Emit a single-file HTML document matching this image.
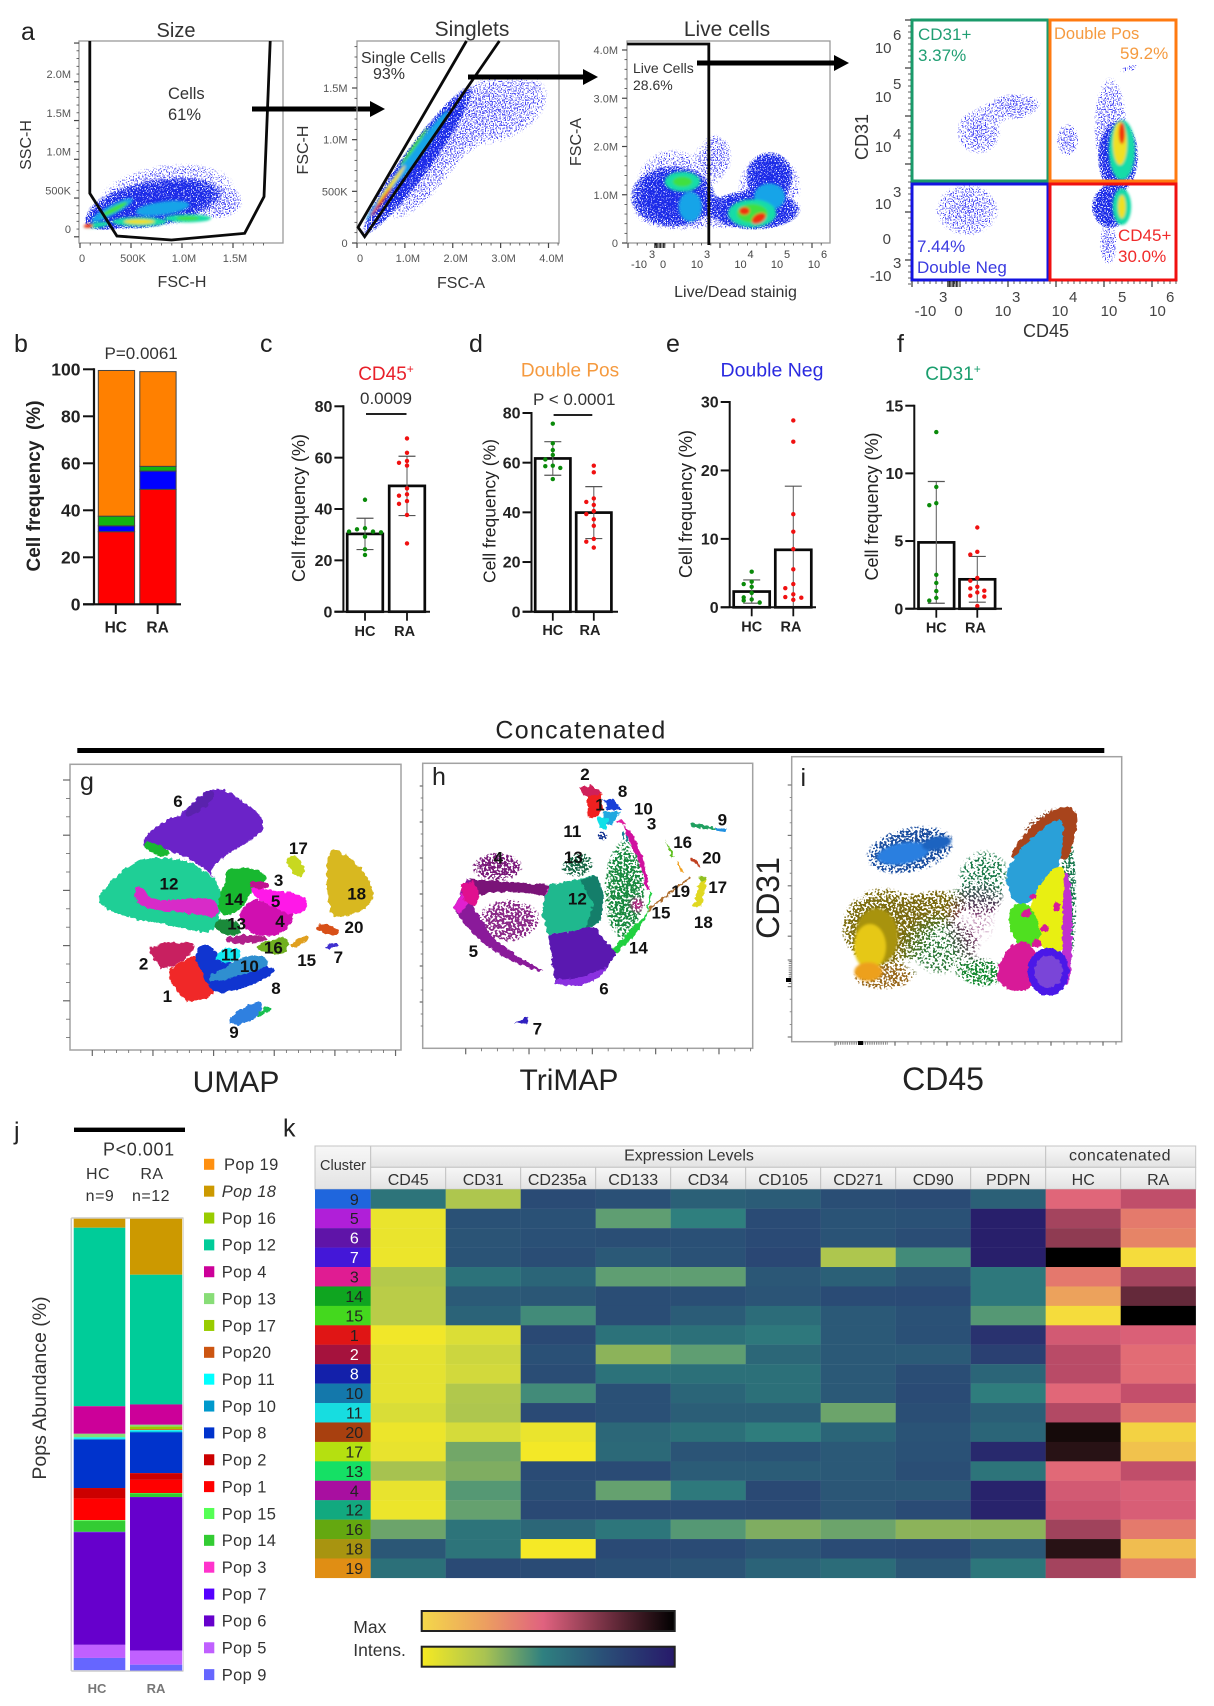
<!DOCTYPE html>
<html lang="en">
<head>
<meta charset="utf-8">
<title>Flow cytometry composite figure</title>
<style>
html,body{margin:0;padding:0;background:#fff}
svg{display:block;font-family:"Liberation Sans",Arial,sans-serif}
</style>
</head>
<body>
<svg id="fig" xmlns="http://www.w3.org/2000/svg" width="1214" height="1706" viewBox="0 0 1214 1706">
<defs id="defs">
<filter id="speckSparse" x="-10%" y="-10%" width="120%" height="120%" color-interpolation-filters="sRGB">
<feGaussianBlur in="SourceGraphic" stdDeviation="1" result="b"/>
<feTurbulence type="fractalNoise" baseFrequency="0.75" numOctaves="1" seed="4" result="t"/>
<feColorMatrix in="t" type="matrix" values="0 0 0 0 0 0 0 0 0 0 0 0 0 0 0 4 0 0 0 -1.5" result="m"/>
<feComposite in="b" in2="m" operator="in" result="c"/>
<feComponentTransfer in="c"><feFuncA type="linear" slope="8" intercept="-4.4"/></feComponentTransfer>
</filter>
<filter id="speckDense" x="-10%" y="-10%" width="120%" height="120%" color-interpolation-filters="sRGB">
<feGaussianBlur in="SourceGraphic" stdDeviation="1" result="b"/>
<feTurbulence type="fractalNoise" baseFrequency="0.8" numOctaves="1" seed="9" result="t"/>
<feColorMatrix in="t" type="matrix" values="0 0 0 0 0 0 0 0 0 0 0 0 0 0 0 4 0 0 0 -1.2" result="m"/>
<feComposite in="b" in2="m" operator="in" result="c"/>
<feComponentTransfer in="c"><feFuncA type="linear" slope="8" intercept="-2"/></feComponentTransfer>
</filter>
<filter id="speckRegion" x="-10%" y="-10%" width="120%" height="120%" color-interpolation-filters="sRGB">
<feGaussianBlur in="SourceGraphic" stdDeviation="1.5" result="b"/>
<feTurbulence type="fractalNoise" baseFrequency="0.45" numOctaves="1" seed="6" result="t"/>
<feColorMatrix in="t" type="matrix" values="0 0 0 0 0 0 0 0 0 0 0 0 0 0 0 4 0 0 0 -1.4" result="m"/>
<feComposite in="b" in2="m" operator="in" result="c"/>
<feComponentTransfer in="c"><feFuncA type="linear" slope="9" intercept="-3"/></feComponentTransfer>
</filter>
<filter id="soft" x="-40%" y="-40%" width="180%" height="180%"><feGaussianBlur stdDeviation="1.3"/></filter>
<filter id="rough" x="-5%" y="-5%" width="110%" height="110%" color-interpolation-filters="sRGB">
<feTurbulence type="fractalNoise" baseFrequency="0.22" numOctaves="2" seed="2" result="t"/>
<feDisplacementMap in="SourceGraphic" in2="t" scale="5" xChannelSelector="R" yChannelSelector="G"/>
</filter>
<clipPath id="clipA1"><rect x="79" y="41" width="204" height="202"/></clipPath>
<clipPath id="clipA2"><rect x="357" y="41" width="202" height="202"/></clipPath>
<clipPath id="clipA3"><rect x="627" y="41" width="203" height="202"/></clipPath>
<clipPath id="clipA4"><rect x="911" y="18" width="266" height="263"/></clipPath>
<linearGradient id="hdr" x1="0" y1="0" x2="0" y2="1"><stop offset="0" stop-color="#f7f7f7"/><stop offset="1" stop-color="#e3e3e3"/></linearGradient>
<linearGradient id="rampWarm" x1="0" y1="0" x2="1" y2="0"><stop offset="0" stop-color="#f4d84a"/><stop offset=".25" stop-color="#ec9f60"/><stop offset=".48" stop-color="#e0627f"/><stop offset=".75" stop-color="#6a2c3d"/><stop offset="1" stop-color="#000"/></linearGradient>
<linearGradient id="rampCool" x1="0" y1="0" x2="1" y2="0"><stop offset="0" stop-color="#f6ea22"/><stop offset=".25" stop-color="#a9c352"/><stop offset=".48" stop-color="#2f8080"/><stop offset=".72" stop-color="#2a4f77"/><stop offset="1" stop-color="#27196a"/></linearGradient>
</defs>

<g id="panelA">
<text x="21" y="40" font-size="25" fill="#222">a</text>
<text x="176" y="37" font-size="20" text-anchor="middle" fill="#333">Size</text>
<text x="472" y="36" font-size="21" text-anchor="middle" fill="#333">Singlets</text>
<text x="727" y="36" font-size="21" text-anchor="middle" fill="#333">Live cells</text>
<text x="182" y="287" font-size="16" text-anchor="middle" fill="#333">FSC-H</text>
<text transform="translate(31,145) rotate(-90)" font-size="16" text-anchor="middle" fill="#333">SSC-H</text>
<text x="461" y="288" font-size="16" text-anchor="middle" fill="#333">FSC-A</text>
<text transform="translate(308,150) rotate(-90)" font-size="16" text-anchor="middle" fill="#333">FSC-H</text>
<text transform="translate(581,142) rotate(-90)" font-size="16" text-anchor="middle" fill="#333">FSC-A</text>
<text x="735.5" y="297" font-size="16" text-anchor="middle" fill="#333">Live/Dead stainig</text>
<text transform="translate(868,137) rotate(-90)" font-size="18" text-anchor="middle" fill="#333">CD31</text>
<text x="1046" y="337" font-size="18" text-anchor="middle" fill="#333">CD45</text>
</g>
<g id="a1Plot"></g>
<g id="a2Plot"></g>
<g id="a3Plot"></g>
<g id="a4Plot"></g>
<g id="gateLabels">
<text x="168" y="99" font-size="16.5" fill="#333">Cells</text>
<text x="168" y="120" font-size="16.5" fill="#333">61%</text>
<text x="361" y="63" font-size="16" fill="#333">Single Cells</text>
<text x="373" y="79" font-size="16" fill="#333">93%</text>
<text x="633" y="73" font-size="14" fill="#333">Live Cells</text>
<text x="633" y="90" font-size="14" fill="#333">28.6%</text>
<text x="918" y="40" font-size="17" fill="#1f9e72">CD31+</text>
<text x="918" y="61" font-size="17" fill="#1f9e72">3.37%</text>
<text x="1054" y="39" font-size="16.5" fill="#f59a3f">Double Pos</text>
<text x="1120" y="59" font-size="17" fill="#f59a3f">59.2%</text>
<text x="917" y="252" font-size="17" fill="#3a3ae0">7.44%</text>
<text x="917" y="273" font-size="17" fill="#3a3ae0">Double Neg</text>
<text x="1118" y="241" font-size="17" fill="#f02a2a">CD45+</text>
<text x="1118" y="262" font-size="17" fill="#f02a2a">30.0%</text>
</g>

<g id="panelB">
<text x="14" y="352" font-size="25" fill="#222">b</text>
<text x="104.5" y="359" font-size="17" fill="#333">P=0.0061</text>
<text transform="translate(40,486) rotate(-90)" font-size="19" font-weight="bold" text-anchor="middle" fill="#222">Cell frequency&#160; (%)</text>
</g>
<g id="panelC">
<text x="260" y="352" font-size="25" fill="#222">c</text>
<text x="386" y="380" font-size="19" text-anchor="middle" fill="#e8202a">CD45<tspan dy="-7" font-size="12">+</tspan></text>
<text x="386" y="404" font-size="17" text-anchor="middle" fill="#333">0.0009</text>
<line x1="366" x2="406.5" y1="414" y2="414" stroke="#222" stroke-width="2"/>
<text transform="translate(305,508) rotate(-90)" font-size="18" text-anchor="middle" fill="#222">Cell frequency (%)</text>
</g>
<g id="panelD">
<text x="469" y="352" font-size="25" fill="#222">d</text>
<text x="570" y="376.5" font-size="19" text-anchor="middle" fill="#f59a3f">Double Pos</text>
<text x="533" y="405" font-size="17" fill="#333">P &lt; 0.0001</text>
<line x1="553.6" x2="592.3" y1="415" y2="415" stroke="#222" stroke-width="2"/>
<text transform="translate(495.5,511) rotate(-90)" font-size="17.5" text-anchor="middle" fill="#222">Cell frequency (%)</text>
</g>
<g id="panelE">
<text x="666" y="352" font-size="25" fill="#222">e</text>
<text x="772" y="376.5" font-size="19.5" text-anchor="middle" fill="#2a2ae0">Double Neg</text>
<text transform="translate(692,504) rotate(-90)" font-size="18" text-anchor="middle" fill="#222">Cell frequency (%)</text>
</g>
<g id="panelF">
<text x="897" y="352" font-size="25" fill="#222">f</text>
<text x="953" y="380" font-size="19" text-anchor="middle" fill="#1a9e6e">CD31<tspan dy="-7" font-size="12">+</tspan></text>
<text transform="translate(878,506.5) rotate(-90)" font-size="18" text-anchor="middle" fill="#222">Cell frequency (%)</text>
</g>

<text x="581" y="738.5" font-size="25" letter-spacing="1.3" text-anchor="middle" fill="#222">Concatenated</text>
<rect x="77.3" y="748" width="1027" height="5" fill="#000"/>

<g id="gPlot"></g>
<g id="hPlot"></g>
<g id="iPlot"></g>
<g id="embeddingTitles">
<text x="80" y="790" font-size="25" fill="#222">g</text>
<text x="432" y="785" font-size="25" fill="#222">h</text>
<text x="800.5" y="786" font-size="25" fill="#222">i</text>
<text x="236" y="1092" font-size="30" text-anchor="middle" fill="#222">UMAP</text>
<text x="569" y="1090" font-size="30" text-anchor="middle" fill="#222">TriMAP</text>
<text x="943" y="1090" font-size="32" text-anchor="middle" fill="#222">CD45</text>
<text transform="translate(779,898) rotate(-90)" font-size="32" text-anchor="middle" fill="#222">CD31</text>
</g>

<g id="panelJ">
<text x="14" y="1139.6" font-size="25" fill="#222">j</text>
<rect x="74" y="1127.6" width="111" height="4.4" fill="#000"/>
<text x="103" y="1155.6" font-size="18" letter-spacing=".6" fill="#333">P&lt;0.001</text>
<text x="98" y="1179" font-size="16" text-anchor="middle" letter-spacing=".5" fill="#333">HC</text>
<text x="152" y="1179" font-size="16" text-anchor="middle" letter-spacing=".5" fill="#333">RA</text>
<text x="100" y="1201" font-size="16" text-anchor="middle" letter-spacing=".5" fill="#333">n=9</text>
<text x="151" y="1201" font-size="16" text-anchor="middle" letter-spacing=".5" fill="#333">n=12</text>
<text transform="translate(46,1388) rotate(-90)" font-size="19.5" text-anchor="middle" fill="#333">Pops Abundance (%)</text>
<text x="97" y="1693" font-size="13" font-weight="bold" text-anchor="middle" fill="#777">HC</text>
<text x="156" y="1693" font-size="13" font-weight="bold" text-anchor="middle" fill="#777">RA</text>
</g>

<g id="panelK">
<text x="283" y="1136.6" font-size="25" fill="#222">k</text>
<text x="353.3" y="1633" font-size="17.5" fill="#333">Max</text>
<text x="353.3" y="1656" font-size="17.5" fill="#333">Intens.</text>
<rect x="421.7" y="1611" width="253" height="20" fill="url(#rampWarm)" stroke="#222" stroke-width="2"/>
<rect x="421.7" y="1646.7" width="253" height="20" fill="url(#rampCool)" stroke="#222" stroke-width="2"/>
</g>

<script>
/* ---------- panel b: stacked compartments (percent) ---------- */
const stackGroups = ['HC', 'RA'];
const stackCompartments = ['cd45', 'double-neg', 'cd31', 'double-pos'];
const stackHC = [30.9, 2.5, 4.1, 62.0];
const stackRA = [48.9, 7.8, 2.0, 40.3];
const stackTicks = [0, 20, 40, 60, 80, 100];

/* ---------- panels c-f: mean, SD, individual donors ---------- */
const cd45Means = [30.3, 49.0];
const cd45Sds = [6.1, 11.55];
const cd45HC = [43.6, 32.5, 32.1, 31.2, 31.2, 30.9, 29.2, 24.3, 22.1];
const cd45RA = [67.5, 61.9, 58.7, 58.0, 56.9, 48.0, 45.7, 45.2, 43.1, 42.0, 37.7, 26.6];
const cd45Ticks = [0, 20, 40, 60, 80];

const dposMeans = [61.7, 39.9];
const dposSds = [6.75, 10.45];
const dposHC = [75.7, 67.8, 65.1, 63.1, 61.3, 58.8, 58.6, 57.9, 53.4];
const dposRA = [58.8, 56.1, 45.6, 44.2, 43.0, 40.5, 39.3, 37.2, 34.6, 29.3, 28.2, 25.8];
const dposTicks = [0, 20, 40, 60, 80];

const dnegMeans = [2.3, 8.4];
const dnegSds = [1.7, 9.3];
const dnegHC = [5.2, 3.75, 3.4, 3.0, 2.1, 1.45, 1.15, 1.0, 0.7];
const dnegRA = [27.3, 24.2, 13.6, 11.05, 8.5, 5.55, 3.4, 2.8, 1.9, 1.5, 1.4, 1.1];
const dnegTicks = [0, 10, 20, 30];

const cd31Means = [4.9, 2.17];
const cd31Sds = [4.5, 1.69];
const cd31HC = [13.05, 9.0, 7.8, 7.65, 2.5, 1.9, 1.3, 0.8, 0.6];
const cd31RA = [6.0, 4.2, 4.0, 2.27, 2.07, 1.62, 1.5, 1.33, 1.2, 0.96, 0.9, 0.2];
const cd31Ticks = [0, 5, 10, 15];

/* ---------- panel j: population abundance ---------- */
const popLabels = ['Pop 19','Pop 18','Pop 16','Pop 12','Pop 4','Pop 13','Pop 17','Pop20','Pop 11','Pop 10','Pop 8','Pop 2','Pop 1','Pop 15','Pop 14','Pop 3','Pop 7','Pop 6','Pop 5','Pop 9'];
const popColors = ['#ff9010','#cc9900','#99cc00','#00cc99','#cc0099','#88dd77','#99cc00','#cc5511','#00ffff','#0099cc','#0033cc','#cc0000','#ff0000','#55ff55','#33cc33','#ff33cc','#5500ff','#6600cc','#c060ff','#6666ff'];
const popHC = [0, 2.0, 0, 39.5, 6.1, 0.8, 0, 0, 0.3, 0.2, 10.7, 2.3, 4.8, 0.2, 2.4, 0, 0.1, 24.9, 2.9, 2.7];
const popRA = [0, 12.4, 0, 28.7, 4.5, 0.4, 0.6, 0.2, 0.3, 0.2, 9.0, 1.5, 2.9, 0.1, 0.8, 0, 0, 34.0, 3.1, 1.3];

/* ---------- panel k: heatmap ---------- */
const heatColumns = ['CD45','CD31','CD235a','CD133','CD34','CD105','CD271','CD90','PDPN'];
const heatGroups = ['HC','RA'];
const heatClusters = ['9','5','6','7','3','14','15','1','2','8','10','11','20','17','13','4','12','16','18','19'];
const clusterColors = ['#1f66dd','#b01fd8','#5f14a8','#4417d8','#e01c92','#0fa520','#44d81e','#e01515','#a5123d','#1320aa','#1478ab','#17dde0','#a8400f','#b5e010','#15e065','#a80fa0','#12a97f','#64a810','#a89410','#e08e14'];
const lightLabelClusters = ['6','7','2','8'];
const heatExpression = [
 [44,72,22,25,35,33,24,22,35],
 [95,26,26,55,50,22,27,26,2],
 [95,28,25,24,25,21,27,23,2],
 [96,27,23,31,26,19,72,52,2],
 [74,43,37,55,55,30,35,28,46],
 [76,32,30,23,24,28,22,21,46],
 [76,36,52,23,33,40,31,26,54],
 [98,88,20,43,42,46,31,25,8],
 [92,82,25,62,55,38,31,32,13],
 [92,84,23,43,42,42,31,23,37],
 [92,73,52,25,37,42,31,22,49],
 [87,72,21,25,34,34,57,24,34],
 [96,85,95,38,42,49,37,27,37],
 [94,58,99,39,28,27,31,26,5],
 [70,60,22,22,33,33,31,24,44],
 [94,54,24,56,47,20,29,30,3],
 [96,56,20,20,21,20,28,22,3],
 [57,44,38,45,54,60,57,62,62],
 [30,44,100,21,22,28,22,20,30],
 [42,21,22,25,28,36,40,30,45]
];
const heatConcatenated = [
 [56,44],[36,68],[30,72],[0,100],[67,36],[80,20],[100,0],[50,53],[42,60],[42,60],
 [57,45],[40,65],[4,96],[8,90],[58,44],[50,53],[47,52],[35,68],[8,88],[36,70]
];
const coolRamp = [[100,'#f5e926'],[85,'#d5db3a'],[72,'#aec64e'],[62,'#8cb35a'],[55,'#5f9e72'],[50,'#2f7f7e'],[42,'#2c7079'],[33,'#2b5c77'],[22,'#2a4b75'],[12,'#2a3f72'],[0,'#27196a']];
const warmRamp = [[100,'#f5dc3c'],[85,'#efb555'],[70,'#e57d6a'],[55,'#e0647a'],[45,'#c44f6b'],[35,'#a0435c'],[25,'#7d3248'],[15,'#4a1f2b'],[5,'#1a0c0c'],[0,'#000000']];

/* ---------- flow panels: density clouds [x, y, spreadX, spreadY, rotation, densityLevel], in crop-read axis units ---------- */
const densityColors = ['#4a4af5','#1c2ce8','#18a4e8','#18dca8','#3fe040','#f0e020','#f03010'];
const sizeClouds = [
 [430,585,250,130,-8,0],[570,610,70,55,0,0],[400,610,200,80,-10,1],[300,640,95,45,-20,1],
 [420,625,70,20,-8,2],[290,630,60,15,-28,2],[295,628,38,8,-28,4],[360,665,70,14,0,3],[360,665,40,7,0,5],
 [485,655,60,12,0,3],[485,655,30,6,0,4],[250,675,35,8,-8,3],[228,678,12,6,-5,6]
];
const singletClouds = [
 [1290,330,190,130,-25,0],[1130,470,280,90,-54,0],[1080,480,270,50,-54,1],
 [1090,440,115,14,-54,2],[1040,510,160,10,-54,2],[1070,440,62,5,-54,4],[1010,555,62,6,-54,5],[985,605,48,4,-54,6]
];
const liveClouds = [
 [170,560,135,160,0,0],[420,560,115,140,0,0],[280,470,60,95,0,0],[280,640,270,65,0,0],
 [170,590,125,105,0,1],[420,530,70,85,0,1],[380,630,135,68,0,1],
 [215,620,30,45,0,2],[420,590,40,40,0,2],[195,545,46,30,0,3],[375,640,62,42,0,3],
 [195,545,25,15,0,4],[375,640,40,28,0,4],[355,633,14,12,0,6],[392,655,20,14,-30,6]
];
const quadrantClouds = [
 [1050,320,100,55,-5,0],[960,395,80,95,0,0],[930,630,115,110,0,0],[1190,420,40,70,0,0],[1350,205,35,14,-15,0],
 [1300,380,60,210,0,0],[1295,730,32,90,0,0],[1320,470,60,125,0,1],[1300,620,55,75,0,1],
 [1330,450,34,90,0,3],[1330,620,24,55,0,3],[1325,430,18,65,0,5],[1330,620,10,35,0,5],[1330,400,8,32,0,6]
];

/* ---------- embedding maps: cluster outlines, in crop-read axis units ---------- */
const umapLabels = [['6',384,272],['17',745,414],['3',686,510],['12',357,520],['14',552,567],['5',677,573],['18',920,550],['13',560,640],['4',690,633],['20',912,650],['2',281,760],['11',540,733],['10',598,768],['16',670,712],['15',770,750],['7',865,740],['1',352,857],['8',678,833],['9',552,965]];
const umapFills = ['#6b23c8','#5a22ad','#1fcf96','#d82bc8','#18b830','#1a8a3a','#d00fb0','#ff18e8','#c01090','#c82060','#f02828','#1035d0','#2f8fd0','#10e8f0','#b0208a','#70b020','#e0a020','#c8d820','#d8b820','#d85018','#4030d0','#2f80e0','#18c050'];
const umapOutlines = [
 [[280,390],[300,365],[350,330],[400,310],[440,265],[485,235],[530,240],[580,275],[625,310],[645,345],[625,375],[570,410],[520,440],[490,470],[480,490],[510,525],[470,480],[440,460],[380,430],[330,410],[280,415]],
 [[400,312],[440,270],[480,240],[500,250],[470,290],[420,320]],
 [[140,565],[180,515],[250,455],[300,442],[400,447],[450,472],[515,525],[510,630],[485,670],[420,660],[330,640],[240,625],[165,598]],
 [[255,530],[280,530],[300,570],[380,570],[500,560],[510,625],[440,615],[385,605],[310,600],[255,580]],
 [[520,478],[600,472],[640,488],[655,515],[610,530],[578,600],[510,622],[503,560],[530,510]],
 [[490,640],[510,625],[560,630],[580,670],[520,680]],
 [[572,600],[610,560],[670,590],[740,610],[705,668],[640,682],[590,662],[568,625]],
 [[600,528],[670,543],[745,548],[785,585],[735,622],[670,590],[610,560]],
 [[590,512],[650,516],[662,537],[610,537]],
 [[288,715],[350,698],[442,696],[425,735],[345,782],[320,760]],
 [[343,780],[425,738],[445,743],[467,800],[508,850],[425,880],[390,862]],
 [[428,730],[465,696],[500,725],[510,758],[672,768],[675,790],[600,828],[500,855],[468,820],[458,790]],
 [[475,800],[530,770],[565,745],[640,733],[662,765],[590,790],[520,810],[480,815]],
 [[495,750],[510,715],[567,713],[572,745],[530,762]],
 [[525,678],[630,673],[662,690],[600,702],[530,700]],
 [[610,710],[700,678],[722,700],[700,737],[640,727]],
 [[715,702],[778,672],[768,697],[730,717]],
 [[708,440],[735,433],[772,480],[745,507],[713,470]],
 [[836,413],[880,428],[932,468],[973,540],[962,592],[880,622],[838,617],[828,500]],
 [[793,658],[820,638],[868,660],[862,678],[820,667]],
 [[826,705],[865,698],[862,712],[830,718]],
 [[530,937],[560,903],[620,873],[642,885],[617,927],[560,947]],
 [[613,922],[650,886],[667,893],[642,917]]
];
const umapGreenSpotFill = ['#18b830'];
const umapGreenSpot = [[[283,395],[310,398],[358,420],[352,442],[310,432],[283,417]]];

const trimapLabels = [['2',495,72],['8',608,122],['1',540,163],['10',670,175],['3',695,220],['9',907,208],['11',457,243],['16',788,275],['13',460,320],['4',235,322],['20',875,322],['17',893,410],['19',782,422],['12',472,445],['15',723,487],['18',850,515],['5',160,602],['14',655,592],['6',552,715],['7',352,835]];
const trimapSpeckFills = ['#8b2a88','#7a1a7a','#1a8a40','#1a6a48','#103090','#1a80a0','#c0208a'];
const trimapSpeckOutlines = [
 [[160,430],[390,440],[370,530],[270,590],[200,590],[150,480]],
 [[120,395],[170,310],[300,290],[340,410]],
 [[540,375],[570,250],[615,240],[675,340],[690,420],[675,490],[590,610],[570,590],[540,515]],
 [[395,395],[430,330],[525,280],[535,380]],
 [[525,240],[560,240],[570,275],[535,275]],
 [[590,225],[640,260],[620,290]],
 [[625,430],[675,450],[675,495],[630,485]]
];
const trimapFills = ['#8a1a9a','#7a1478','#e020d0','#e0108f','#d840c0','#1fb88e','#147e6a','#5a18b0','#8a30e0','#20d040','#d0109f','#d0205a','#f02020','#1840d8','#20a8e0','#10e0e8','#e020a0','#60c020','#f0a020','#b07030','#c04020','#90c020','#e0d820','#20a060','#2090e0','#3020c0'];
const trimapOutlines = [
 [[100,475],[140,390],[175,395],[160,470],[215,560],[300,625],[370,660],[360,665],[290,640],[200,590],[130,520]],
 [[145,385],[250,395],[385,405],[385,440],[300,425],[200,430],[170,440]],
 [[100,475],[125,425],[145,460],[120,495]],
 [[125,405],[160,390],[180,440],[165,470],[130,450]],
 [[380,410],[415,425],[390,465],[370,460]],
 [[385,405],[530,375],[550,430],[545,510],[490,545],[445,545],[385,555],[365,480]],
 [[480,390],[530,375],[550,430],[545,510],[495,540],[520,460]],
 [[385,555],[445,545],[520,530],[590,610],[540,680],[490,708],[405,702],[395,620]],
 [[405,690],[490,680],[560,650],[540,680],[490,708],[405,702]],
 [[578,597],[680,490],[690,420],[695,430],[680,500],[640,560],[590,612]],
 [[610,225],[640,255],[670,330],[690,420],[680,420],[660,340],[625,265]],
 [[478,115],[510,105],[545,125],[530,145],[505,150]],
 [[500,140],[545,130],[550,175],[530,200],[505,205]],
 [[550,150],[580,145],[605,180],[565,180]],
 [[550,185],[600,185],[575,225],[545,225]],
 [[530,200],[565,205],[560,240],[540,235]],
 [[585,215],[610,208],[615,225]],
 [[735,270],[765,320],[755,325]],
 [[770,330],[790,365],[780,365]],
 [[680,480],[810,380],[812,384],[684,484]],
 [[810,325],[818,322],[842,350],[836,352]],
 [[835,380],[860,382],[850,402]],
 [[820,470],[835,405],[860,385],[845,470]],
 [[810,220],[900,235],[880,240],[820,232]],
 [[890,233],[918,236],[915,246],[890,242]],
 [[285,815],[325,800],[320,825]]
];

const overlaySpeck = [[310,530,150,140,0],[300,540,110,105,0],[440,480,130,70,-15],[390,300,165,85,-12],[390,300,120,55,-12],[310,680,115,50,0],[480,600,125,115,0],[610,380,115,125,30],[600,520,110,135,0],[610,670,90,55,0],[865,450,32,270,0],[800,240,125,80,-35]];
const overlaySpeckFills = ['#7d6e10','#7d6e10','#7a6a10','#1c4fa0','#1c4fa0','#9a6a20','#2f7a3a','#1a7a4a','#80206a','#148a30','#1a7a50','#8a4020'];
const overlaySpeckDensity = [1, 1, 0.85, 0.9, 1, 0.8, 0.55, 0.55, 0.4, 0.7, 0.8, 0.6];
const overlayBlobs = [[370,310,80,32,-10],[470,280,45,20,-12],[290,560,65,85,0],[270,590,48,68,0],[265,665,42,28,0]];
const overlayBlobFills = ['#2a7fe0','#1e63c0','#a89310','#e6c812','#eda01c'];
const overlayOutlines = [
 [[695,300],[770,210],[860,160],[900,195],[875,290],[865,335],[695,335]],
 [[695,330],[780,235],[855,195],[845,300],[840,345],[765,455],[700,465],[675,380]],
 [[800,365],[865,335],[868,605],[790,615],[735,490]],
 [[690,465],[750,455],[795,565],[730,605],[685,540]],
 [[635,685],[700,565],[775,590],[765,715],[700,730]],
 [[850,335],[878,420],[874,705],[845,705]]
];
const overlayFills = ['#a8441c','#2aa0d8','#e8ef12','#4fe020','#d81a98','#c030d0'];
const overlayDiscs = [[805,665,62,72,0],[805,665,42,48,0],[740,490,15,12,0],[795,535,14,10,0],[770,580,15,12,0],[760,440,10,8,0],[830,470,10,14,0]];
const overlayDiscFills = ['#4a18e8','#7a45d8','#d81a98','#d81a98','#d81a98','#d81a98','#d81a98'];

/* ---------- gate tick labels ---------- */
const sizeXTickLabels = ['0','500K','1.0M','1.5M'];
const sizeYTickLabels = ['0','500K','1.0M','1.5M','2.0M'];
const singletXTickLabels = ['0','1.0M','2.0M','3.0M','4.0M'];
const singletYTickLabels = ['0','500K','1.0M','1.5M'];
const liveYTickLabels = ['0','1.0M','2.0M','3.0M','4.0M'];

/* ---------- helpers ---------- */
const SVGNS = 'http://www.w3.org/2000/svg';
function el(tag, parent, attrs, txt) {
  const e = document.createElementNS(SVGNS, tag);
  for (const k in attrs) e.setAttribute(k, attrs[k]);
  if (txt !== undefined) e.textContent = txt;
  parent.appendChild(e);
  return e;
}
function linear(d0, d1, r0, r1) {
  const k = (r1 - r0) / (d1 - d0);
  const f = v => r0 + (v - d0) * k;
  f.k = Math.abs(k);
  return f;
}
function hex(c) { return [1,3,5].map(i => parseInt(c.substr(i,2),16)); }
function ramp(stops, v) {
  for (let i = 0; i < stops.length - 1; i++) {
    const a = stops[i], b = stops[i+1];
    if (v <= a[0] && v >= b[0]) {
      const t = (a[0] - v) / ((a[0] - b[0]) || 1);
      const ca = hex(a[1]), cb = hex(b[1]);
      return 'rgb(' + ca.map((x,j) => Math.round(x + (cb[j]-x)*t)).join(',') + ')';
    }
  }
  return stops[stops.length-1][1];
}
const fadeCache = {};
function fade(color) {
  if (fadeCache[color]) return fadeCache[color];
  const id = 'fade' + color.slice(1);
  const defs = document.getElementById('defs');
  const rg = el('radialGradient', defs, {id: id});
  el('stop', rg, {offset: '0', 'stop-color': color, 'stop-opacity': '1'});
  el('stop', rg, {offset: '.55', 'stop-color': color, 'stop-opacity': '.8'});
  el('stop', rg, {offset: '.85', 'stop-color': color, 'stop-opacity': '.35'});
  el('stop', rg, {offset: '1', 'stop-color': color, 'stop-opacity': '0'});
  fadeCache[color] = 'url(#' + id + ')';
  return fadeCache[color];
}
function pathOf(pts, sx, sy, smooth) {
  const P = pts.map(p => [sx(p[0]), sy(p[1])]);
  if (!smooth) return 'M' + P.map(p => p[0].toFixed(1) + ' ' + p[1].toFixed(1)).join('L') + 'Z';
  const n = P.length;
  const mid = (a, b) => [(a[0] + b[0]) / 2, (a[1] + b[1]) / 2];
  let m = mid(P[n - 1], P[0]);
  let d = 'M' + m[0].toFixed(1) + ' ' + m[1].toFixed(1);
  for (let i = 0; i < n; i++) {
    const e = mid(P[i], P[(i + 1) % n]);
    d += 'Q' + P[i][0].toFixed(1) + ' ' + P[i][1].toFixed(1) + ' ' + e[0].toFixed(1) + ' ' + e[1].toFixed(1);
  }
  return d + 'Z';
}
function drawOutlines(g, outlines, fills, sx, sy, prefix, smooth, faded) {
  outlines.forEach((pts, i) => {
    const p = el('path', g, {d: pathOf(pts, sx, sy, smooth), fill: faded ? fade(fills[i]) : fills[i]});
    
    
  });
}
function drawBlobs(g, blobs, fills, sx, sy, prefix, faded, density) {
  blobs.forEach((b, i) => {
    const cx = sx(b[0]), cy = sy(b[1]);
    const e = el('ellipse', g, {cx: cx, cy: cy, rx: b[2]*sx.k, ry: b[3]*sy.k, fill: faded ? fade(fills[i]) : fills[i], 'fill-opacity': density ? density[i] : 1, transform: 'rotate(' + b[4] + ' ' + cx + ' ' + cy + ')'});
    
    
  });
}
function drawDensity(plot, clouds, sx, sy, clip, prefix) {
  const root = el('g', plot, {'clip-path': 'url(#' + clip + ')'});
  
  
  const sparse = el('g', root, {filter: 'url(#speckSparse)'});
  
  
  const dense = el('g', root, {filter: 'url(#speckDense)'});
  
  
  const soft = el('g', root, {filter: 'url(#soft)'});
  
  
  clouds.forEach((c, i) => {
    const target = c[5] === 0 ? sparse : (c[5] === 1 ? dense : soft);
    const cx = sx(c[0]), cy = sy(c[1]);
    const e = el('ellipse', target, {cx: cx, cy: cy, rx: c[2]*sx.k, ry: c[3]*sy.k, fill: c[5] < 2 ? fade(densityColors[c[5]]) : densityColors[c[5]], transform: 'rotate(' + c[4] + ' ' + cx + ' ' + cy + ')'});
    
    
  });
}
function tickRun(g, horizontal, start, step, count, base, major, every, minor, color, label) {
  for (let i = 0; i < count; i++) {
    const len = (i % every === 0) ? major : minor;
    const pos = start + step * i;
    const a = horizontal ? {x1: pos, x2: pos, y1: base, y2: base + len} : {x1: base, x2: base - len, y1: pos, y2: pos};
    a.stroke = color; a['stroke-width'] = (i % every === 0) ? 1.2 : 0.8;
    const t = el('line', g, a);
    
    
  }
}
function frame(g, x, y, w, h, color, sw, label) {
  const r = el('rect', g, {x: x, y: y, width: w, height: h, fill: 'none', stroke: color, 'stroke-width': sw});
  
  
}
function gate(g, pts, sx, sy, closed, label) {
  const d = 'M' + pts.map(p => sx(p[0]) + ' ' + sy(p[1])).join('L') + (closed ? 'Z' : '');
  const p = el('path', g, {d: d, fill: 'none', stroke: '#0a0a0a', 'stroke-width': 2.8, 'stroke-linejoin': 'miter'});
  
  
}
function arrow(g, x1, x2, y, label) {
  const l = el('rect', g, {x: x1, y: y - 2.5, width: x2 - x1 - 12, height: 5, fill: '#000'});
  
  
  const h = el('polygon', g, {points: (x2-15) + ',' + (y-8) + ' ' + x2 + ',' + y + ' ' + (x2-15) + ',' + (y+8), fill: '#000'});
  
  
}
function tickText(g, x, y, anchor, size, color, text, label) {
  const t = el('text', g, {x: x, y: y, 'text-anchor': anchor, 'font-size': size, fill: color}, text);
  
  
  return t;
}
function expLabel(g, x, y, anchor, size, base, sx, sy, exp, label) {
  tickText(g, x, y, anchor, size, '#444', base, label + '-base');
  tickText(g, sx, sy, 'start', size, '#444', exp, label + '-exponent');
}
function clusterLabels(g, labels, sx, sy, size, prefix) {
  labels.forEach(l => {
    const t = el('text', g, {x: sx(l[1]), y: sy(l[2]) + size*0.36, 'text-anchor': 'middle', 'font-size': size, 'font-weight': 'bold', fill: '#111'}, l[0]);
    
    
  });
}

/* reading frames of the gating row */
const cropXa = linear(0, 1568, 0, 607);
const cropXb = linear(0, 1568, 607, 1214);
const cropY = linear(0, 1020, 0, 340);

/* ---------- panel a1 ---------- */
(function () {
  const g = document.getElementById('a1Plot');
  drawDensity(g, sizeClouds, cropXa, cropY, 'clipA1', 'size');
  frame(g, 79, 41, 204, 202, '#9a9a9a', 1.3, 'size-plot-frame');
  const x = linear(0, 1500, 80, 233), y = linear(0, 2000, 229, 74);
  sizeXTickLabels.forEach((t, i) => {
    const v = i * 500;
    tickText(g, x(v) + 2, 262, 'middle', 11, '#555', t, 'size-x-tick-label-' + t);
  });
  tickRun(g, true, x(0), x(100) - x(0), 19, 243, 5, 5, 2.5, '#444', 'size-x');
  sizeYTickLabels.forEach((t, i) => {
    const v = i * 500;
    tickText(g, 71, y(v) + 4, 'end', 11, '#555', t, 'size-y-tick-label-' + t);
  });
  tickRun(g, false, y(0) + 7.8, y(100) - y(0), 26, 79, 5, 5, 2.5, '#444', 'size-y');
  gate(g, [[232,123],[232,580],[302,708],[443,720],[632,700],[682,590],[698,123]], cropXa, cropY, false, 'cells-gate');
  arrow(g, 252, 385, 109, 'size-to-singlets-arrow');
})();

/* ---------- panel a2 ---------- */
(function () {
  const g = document.getElementById('a2Plot');
  drawDensity(g, singletClouds, cropXa, cropY, 'clipA2', 'singlets');
  frame(g, 357, 41, 202, 202, '#9a9a9a', 1.3, 'singlets-plot-frame');
  const x = linear(0, 4000, 357, 548.5), y = linear(0, 1500, 243, 88);
  singletXTickLabels.forEach((t, i) => {
    tickText(g, x(i * 1000) + 3, 262, 'middle', 11, '#555', t, 'singlets-x-tick-label-' + t);
  });
  tickRun(g, true, x(0), x(200) - x(0), 22, 243, 5, 5, 2.5, '#444', 'singlets-x');
  singletYTickLabels.forEach((t, i) => {
    tickText(g, 347.6, y(i * 500) + 4, 'end', 11, '#555', t, 'singlets-y-tick-label-' + t);
  });
  tickRun(g, false, y(0), y(100) - y(0), 20, 357, 5, 5, 2.5, '#444', 'singlets-y');
  gate(g, [[1205,123],[925,682],[942,710],[1290,123]], cropXa, cropY, false, 'single-cells-gate');
  arrow(g, 468, 598, 77, 'singlets-to-live-arrow');
})();

/* ---------- panel a3 ---------- */
(function () {
  const g = document.getElementById('a3Plot');
  drawDensity(g, liveClouds, cropXb, cropY, 'clipA3', 'live');
  frame(g, 627, 41, 203, 202, '#9a9a9a', 1.3, 'live-plot-frame');
  const y = linear(0, 4, 243, 50);
  liveYTickLabels.forEach((t, i) => {
    tickText(g, 618, y(i) + 4, 'end', 11, '#555', t, 'live-y-tick-label-' + t);
  });
  tickRun(g, false, y(0), y(0.2) - y(0), 21, 627, 5, 5, 2.5, '#444', 'live-y');
  tickRun(g, true, 628, 9.2, 22, 243, 5, 5, 2.5, '#444', 'live-x');
  tickRun(g, true, 655, 1.4, 8, 243, 5, 8, 5, '#000', 'live-x-zero-cluster');
  expLabel(g, 639, 268, 'middle', 11, '-10', 649, 258, '3', 'live-x-tick-neg-1000');
  tickText(g, 663, 268, 'middle', 11, '#444', '0', 'live-x-tick-zero');
  expLabel(g, 697, 268, 'middle', 11, '10', 704, 258, '3', 'live-x-tick-1000');
  expLabel(g, 740.5, 268, 'middle', 11, '10', 747.5, 258, '4', 'live-x-tick-10000');
  expLabel(g, 777, 268, 'middle', 11, '10', 784, 258, '5', 'live-x-tick-100000');
  expLabel(g, 814, 268, 'middle', 11, '10', 821, 258, '6', 'live-x-tick-1000000');
  gate(g, [[52,132],[263,132],[263,735]], cropXb, cropY, false, 'live-cells-gate');
  arrow(g, 697, 849, 63, 'live-to-quadrant-arrow');
})();

/* ---------- panel a4 ---------- */
(function () {
  const g = document.getElementById('a4Plot');
  drawDensity(g, quadrantClouds, cropXb, cropY, 'clipA4', 'quadrant');
  const q = [[912,20,136,161,'#1a9a6a','cd31-gate'],[1050,20,126,161,'#ff7a10','double-pos-gate'],[912,184,136,96,'#1414e0','double-neg-gate'],[1050,184,126,96,'#f01010','cd45-gate']];
  q.forEach(r => frame(g, r[0], r[1], r[2], r[3], r[4], 3, r[5]));
  tickRun(g, false, 20, 6, 45, 911, 6, 8, 3, '#333', 'quadrant-y');
  tickRun(g, true, 912, 6, 45, 281, 6, 8, 3, '#333', 'quadrant-x');
  tickRun(g, true, 948, 1.4, 8, 281, 6, 8, 6, '#000', 'quadrant-x-zero-cluster');
  expLabel(g, 891.5, 53, 'end', 15, '10', 893, 40, '6', 'quadrant-y-tick-1000000');
  expLabel(g, 891.5, 102, 'end', 15, '10', 893, 89, '5', 'quadrant-y-tick-100000');
  expLabel(g, 891.5, 152, 'end', 15, '10', 893, 139, '4', 'quadrant-y-tick-10000');
  expLabel(g, 891.5, 209, 'end', 15, '10', 893, 197, '3', 'quadrant-y-tick-1000');
  tickText(g, 891, 244, 'end', 15, '#444', '0', 'quadrant-y-tick-zero');
  expLabel(g, 891.5, 281, 'end', 15, '-10', 893, 268, '3', 'quadrant-y-tick-neg-1000');
  expLabel(g, 925.5, 316, 'middle', 15, '-10', 939, 302, '3', 'quadrant-x-tick-neg-1000');
  tickText(g, 958.5, 316, 'middle', 15, '#444', '0', 'quadrant-x-tick-zero');
  expLabel(g, 1003, 316, 'middle', 15, '10', 1012, 302, '3', 'quadrant-x-tick-1000');
  expLabel(g, 1060, 316, 'middle', 15, '10', 1069, 302, '4', 'quadrant-x-tick-10000');
  expLabel(g, 1109, 316, 'middle', 15, '10', 1118, 302, '5', 'quadrant-x-tick-100000');
  expLabel(g, 1157.5, 316, 'middle', 15, '10', 1166, 302, '6', 'quadrant-x-tick-1000000');
})();

/* ---------- panel b ---------- */
(function () {
  const g = document.getElementById('panelB');
  const y = linear(0, 100, 604.3, 369.3);
  const barLeft = [98.3, 139.8], barW = 36.3, centers = [115.8, 157.6];
  const fills = ['#ff0000', '#0000ff', '#12b312', '#ff8000'];
  [stackHC, stackRA].forEach((vals, b) => {
    let acc = 0;
    vals.forEach((v, i) => {
      const r = el('rect', g, {x: barLeft[b], y: y(acc + v), width: barW, height: y(acc) - y(acc + v), fill: fills[i], stroke: '#444', 'stroke-width': 1});
      
      
      acc += v;
    });
    const tick = el('line', g, {x1: centers[b], x2: centers[b], y1: 604, y2: 614, stroke: '#111', 'stroke-width': 2});
    
    
    const lab = el('text', g, {x: centers[b], y: 632.7, 'text-anchor': 'middle', 'font-size': 15.5, 'font-weight': 'bold', fill: '#222'}, stackGroups[b]);
    
    
  });
  const ya = el('line', g, {x1: 94, x2: 94, y1: 368.3, y2: 605, stroke: '#111', 'stroke-width': 2.2});
  
  
  const xa = el('line', g, {x1: 83, x2: 181, y1: 604.3, y2: 604.3, stroke: '#111', 'stroke-width': 2.2});
  
  
  stackTicks.forEach(t => {
    const tk = el('line', g, {x1: 83, x2: 94, y1: y(t), y2: y(t), stroke: '#111', 'stroke-width': 2});
    
    
    const lb = el('text', g, {x: 80.5, y: y(t) + 6, 'text-anchor': 'end', 'font-size': 17.5, 'font-weight': 'bold', fill: '#222'}, t);
    
    
  });
})();

/* ---------- panels c-f ---------- */
function swarm(pxs, step) {
  const idx = pxs.map((v, i) => i).sort((a, b) => pxs[a] - pxs[b]);
  const out = pxs.map(() => 0);
  let start = 0;
  for (let n = 0; n < idx.length; n++) {
    if (n > 0 && pxs[idx[n]] - pxs[idx[start]] > 4.5) start = n;
    const k = n - start;
    out[idx[n]] = (k === 0) ? 0 : (k % 2 ? -1 : 1) * Math.ceil(k / 2) * step;
  }
  return out;
}
function dotBars(id, prefix, c, means, sds, series, ticks) {
  const g = document.getElementById(id);
  const y = linear(0, ticks[ticks.length - 1], c.y0, c.yTop);
  ['HC', 'RA'].forEach((name, b) => {
    const key = name.toLowerCase();
    const cx = c.centers[b];
    const bar = el('rect', g, {x: cx - c.half, y: y(means[b]), width: c.half * 2, height: c.y0 - y(means[b]), fill: '#fff', stroke: '#0a0a0a', 'stroke-width': 2.7});
    
    
    const hi = y(means[b] + sds[b]), lo = y(Math.max(0, means[b] - sds[b]));
    const stem = el('line', g, {x1: cx, x2: cx, y1: hi, y2: lo, stroke: '#666', 'stroke-width': 1.1});
    
    
    const capHi = el('line', g, {x1: cx - 8.5, x2: cx + 8.5, y1: hi, y2: hi, stroke: '#555', 'stroke-width': 1.2});
    
    
    if (means[b] - sds[b] > 0) {
      const capLo = el('line', g, {x1: cx - 8.5, x2: cx + 8.5, y1: lo, y2: lo, stroke: '#555', 'stroke-width': 1.2});
      
      
    }
    const pxs = series[b].map(v => y(v));
    const off = swarm(pxs, c.step);
    pxs.forEach((py, i) => {
      const pt = el('circle', g, {cx: cx + off[i], cy: py, r: 2.2, fill: b ? '#f01010' : '#0a8a0a'});
      
      
    });
    const tk = el('line', g, {x1: cx, x2: cx, y1: c.y0, y2: c.y0 + 9, stroke: '#111', 'stroke-width': 1.8});
    
    
    const lab = el('text', g, {x: c.labels[b], y: c.labelY, 'text-anchor': 'middle', 'font-size': 14.5, 'font-weight': 'bold', fill: '#222'}, name);
    
    
  });
  const ya = el('line', g, {x1: c.axisX, x2: c.axisX, y1: c.yTop - 1, y2: c.y0, stroke: '#111', 'stroke-width': 2});
  
  
  const xa = el('line', g, {x1: c.axisX - 9, x2: c.xEnd, y1: c.y0, y2: c.y0, stroke: '#111', 'stroke-width': 2});
  
  
  ticks.forEach(t => {
    const tk = el('line', g, {x1: c.axisX - 9, x2: c.axisX, y1: y(t), y2: y(t), stroke: '#111', 'stroke-width': 2});
    
    
    const lb = el('text', g, {x: c.axisX - 11, y: y(t) + 5.7, 'text-anchor': 'end', 'font-size': 16, 'font-weight': 'bold', fill: '#222'}, t);
    
    
  });
}
dotBars('panelC', 'cd45', {y0: 611.7, yTop: 406.3, axisX: 343.4, xEnd: 430, centers: [365, 407], half: 17.8, step: 8, labels: [365, 404.6], labelY: 636}, cd45Means, cd45Sds, [cd45HC, cd45RA], cd45Ticks);
dotBars('panelD', 'double-pos', {y0: 611.7, yTop: 413, axisX: 531.5, xEnd: 618, centers: [552.8, 593.8], half: 17.6, step: 7.5, labels: [552.8, 590], labelY: 635}, dposMeans, dposSds, [dposHC, dposRA], dposTicks);
dotBars('panelE', 'double-neg', {y0: 607.3, yTop: 402, axisX: 729.7, xEnd: 816, centers: [751.7, 793.3], half: 18, step: 8, labels: [751.7, 791], labelY: 631.7}, dnegMeans, dnegSds, [dnegHC, dnegRA], dnegTicks);
dotBars('panelF', 'cd31', {y0: 608.7, yTop: 405.7, axisX: 914.3, xEnd: 1002, centers: [936.3, 977.3], half: 17.8, step: 7, labels: [936.3, 975.5], labelY: 632.3}, cd31Means, cd31Sds, [cd31HC, cd31RA], cd31Ticks);

/* ---------- panel g: UMAP ---------- */
(function () {
  const g = document.getElementById('gPlot');
  const sx = linear(0, 1200, 50, 450), sy = linear(0, 1200, 710, 1110);
  frame(g, 70, 764.3, 331, 285.7, '#a2a2a2', 1.5, 'umap-plot-frame');
  tickRun(g, true, 92.3, 12.13, 26, 1050, 6, 5, 3, '#666', 'umap-x');
  tickRun(g, false, 780, 18.4, 15, 70, 7, 3, 4, '#666', 'umap-y');
  const shapes = el('g', g, {filter: 'url(#rough)'});
  
  
  drawOutlines(shapes, umapOutlines, umapFills, sx, sy, 'umap', true, false);
  drawOutlines(shapes, umapGreenSpot, umapGreenSpotFill, sx, sy, 'umap-green-spot', true, false);
  clusterLabels(g, umapLabels, sx, sy, 17, 'umap');
})();

/* ---------- panel h: TriMAP ---------- */
(function () {
  const g = document.getElementById('hPlot');
  const sx = linear(0, 1080, 420, 780), sy = linear(0, 1080, 750, 1110);
  frame(g, 422.7, 763.3, 330, 285, '#a2a2a2', 1.5, 'trimap-plot-frame');
  tickRun(g, true, 465.7, 15.83, 19, 1048.3, 6, 4, 3, '#666', 'trimap-x');
  tickRun(g, false, 786, 12, 21, 422.7, 3, 3, 2, '#666', 'trimap-y');
  const speck = el('g', g, {filter: 'url(#speckRegion)'});
  
  
  drawOutlines(speck, trimapSpeckOutlines, trimapSpeckFills, sx, sy, 'trimap-sparse', true, true);
  const shapes = el('g', g, {filter: 'url(#rough)'});
  
  
  drawOutlines(shapes, trimapOutlines, trimapFills, sx, sy, 'trimap', false, false);
  clusterLabels(g, trimapLabels, sx, sy, 17, 'trimap');
})();

/* ---------- panel i: CD45 / CD31 overlay ---------- */
(function () {
  const g = document.getElementById('iPlot');
  const sx = linear(0, 1080, 780, 1140), sy = linear(0, 1080, 750, 1110);
  frame(g, 791.7, 756.7, 330, 285, '#a2a2a2', 1.5, 'overlay-plot-frame');
  tickRun(g, false, 785, 12.6, 21, 791.7, 4, 4, 2, '#777', 'overlay-y');
  tickRun(g, false, 960, 1.8, 14, 791.7, 4, 14, 3, '#777', 'overlay-y-zero-cluster');
  tickRun(g, true, 835, 1.8, 30, 1041.7, 4, 30, 3, '#777', 'overlay-x-zero-cluster');
  tickRun(g, true, 895, 13, 18, 1041.7, 4, 4, 3, '#666', 'overlay-x');
  const z1 = el('rect', g, {x: 786, y: 978, width: 5, height: 4, fill: '#000'});
  
  
  const z2 = el('rect', g, {x: 858, y: 1041, width: 5, height: 4, fill: '#000'});
  
  
  const speck = el('g', g, {filter: 'url(#speckRegion)'});
  
  
  drawBlobs(speck, overlaySpeck, overlaySpeckFills, sx, sy, 'overlay-sparse', true, overlaySpeckDensity);
  const soft = el('g', g, {filter: 'url(#soft)'});
  
  
  drawBlobs(soft, overlayBlobs, overlayBlobFills, sx, sy, 'overlay', false);
  const shapes = el('g', g, {filter: 'url(#rough)'});
  
  
  drawOutlines(shapes, overlayOutlines, overlayFills, sx, sy, 'overlay', true, false);
  drawBlobs(shapes, overlayDiscs, overlayDiscFills, sx, sy, 'overlay-disc', false);
})();

/* ---------- panel j ---------- */
(function () {
  const g = document.getElementById('panelJ');
  const y = linear(0, 100, 1218.7, 1670.6);
  const left = [73.7, 130], width = [51.6, 52.3];
  const frameLeft = el('line', g, {x1: 71.3, x2: 71.3, y1: 1218, y2: 1671, stroke: '#ccc', 'stroke-width': 1.5});
  
  
  const frameTop = el('line', g, {x1: 71.3, x2: 183.5, y1: 1218, y2: 1218, stroke: '#ccc', 'stroke-width': 1.5});
  
  
  const frameBot = el('line', g, {x1: 71.3, x2: 183.5, y1: 1671, y2: 1671, stroke: '#ccc', 'stroke-width': 1.5});
  
  
  const frameR = el('line', g, {x1: 183.5, x2: 183.5, y1: 1218, y2: 1671, stroke: '#ddd', 'stroke-width': 1});
  
  
  [popHC, popRA].forEach((vals, b) => {
    let acc = 0;
    vals.forEach((v, i) => {
      if (v > 0) {
        const r = el('rect', g, {x: left[b], y: y(acc), width: width[b], height: y(acc + v) - y(acc), fill: popColors[i]});
        
        
      }
      acc += v;
    });
  });
  popLabels.forEach((t, i) => {
    const cy = 1164.3 + i * 26.86;
    const sw = el('rect', g, {x: 204, y: cy - 5.5, width: 10.3, height: 11, fill: popColors[i]});
    
    
    const lb = el('text', g, {x: i === 0 ? 224 : 221.7, y: cy + 5.8, 'font-size': 16.5, 'letter-spacing': '.4', fill: '#333', 'font-style': t === 'Pop 18' ? 'italic' : 'normal'}, t);
    
    
  });
})();

/* ---------- panel k ---------- */
(function () {
  const g = document.getElementById('panelK');
  const colX = i => 370.7 + 75 * i;
  const rowY = i => 1189.3 + 19.43 * i;
  const hdr = (x, y, w, h, label) => {
    const r = el('rect', g, {x: x, y: y, width: w, height: h, fill: 'url(#hdr)', stroke: '#c4c4c4', 'stroke-width': 1});
    
    
  };
  hdr(315, 1146, 55.7, 43.3, 'cluster-header-cell');
  hdr(370.7, 1146, 675, 21.3, 'expression-levels-header-cell');
  hdr(1045.7, 1146, 150, 21.3, 'concatenated-header-cell');
  const t1 = el('text', g, {x: 343, y: 1170, 'text-anchor': 'middle', 'font-size': 14.5, fill: '#333'}, 'Cluster');
  
  
  const t2 = el('text', g, {x: 689, y: 1160.5, 'text-anchor': 'middle', 'font-size': 16, fill: '#333'}, 'Expression Levels');
  
  
  const t3 = el('text', g, {x: 1120, y: 1160.5, 'text-anchor': 'middle', 'font-size': 16, 'letter-spacing': '.5', fill: '#333'}, 'concatenated');
  
  
  heatColumns.concat(heatGroups).forEach((c, i) => {
    hdr(colX(i), 1167.3, 75, 22, 'column-header-cell-' + c.toLowerCase());
    const t = el('text', g, {x: colX(i) + 37.5 + (i === 2 ? -1 : 0), y: 1185, 'text-anchor': 'middle', 'font-size': 16, fill: '#333'}, c);
    
    
  });
  heatClusters.forEach((c, r) => {
    const sw = el('rect', g, {x: 315, y: rowY(r), width: 55.9, height: 19.6, fill: clusterColors[r]});
    
    
    const tx = el('text', g, {x: 354.3, y: rowY(r) + 15.5, 'text-anchor': 'middle', 'font-size': 16, fill: lightLabelClusters.includes(c) ? '#fff' : '#222'}, c);
    
    
    heatExpression[r].forEach((v, k) => {
      const cell = el('rect', g, {x: colX(k), y: rowY(r), width: 75.2, height: 19.6, fill: ramp(coolRamp, v)});
      
      
    });
    heatConcatenated[r].forEach((v, k) => {
      const cell = el('rect', g, {x: colX(9 + k), y: rowY(r), width: 75.2, height: 19.6, fill: ramp(warmRamp, v)});
      
      
    });
  });
})();
</script>
</svg>
</body>
</html>
